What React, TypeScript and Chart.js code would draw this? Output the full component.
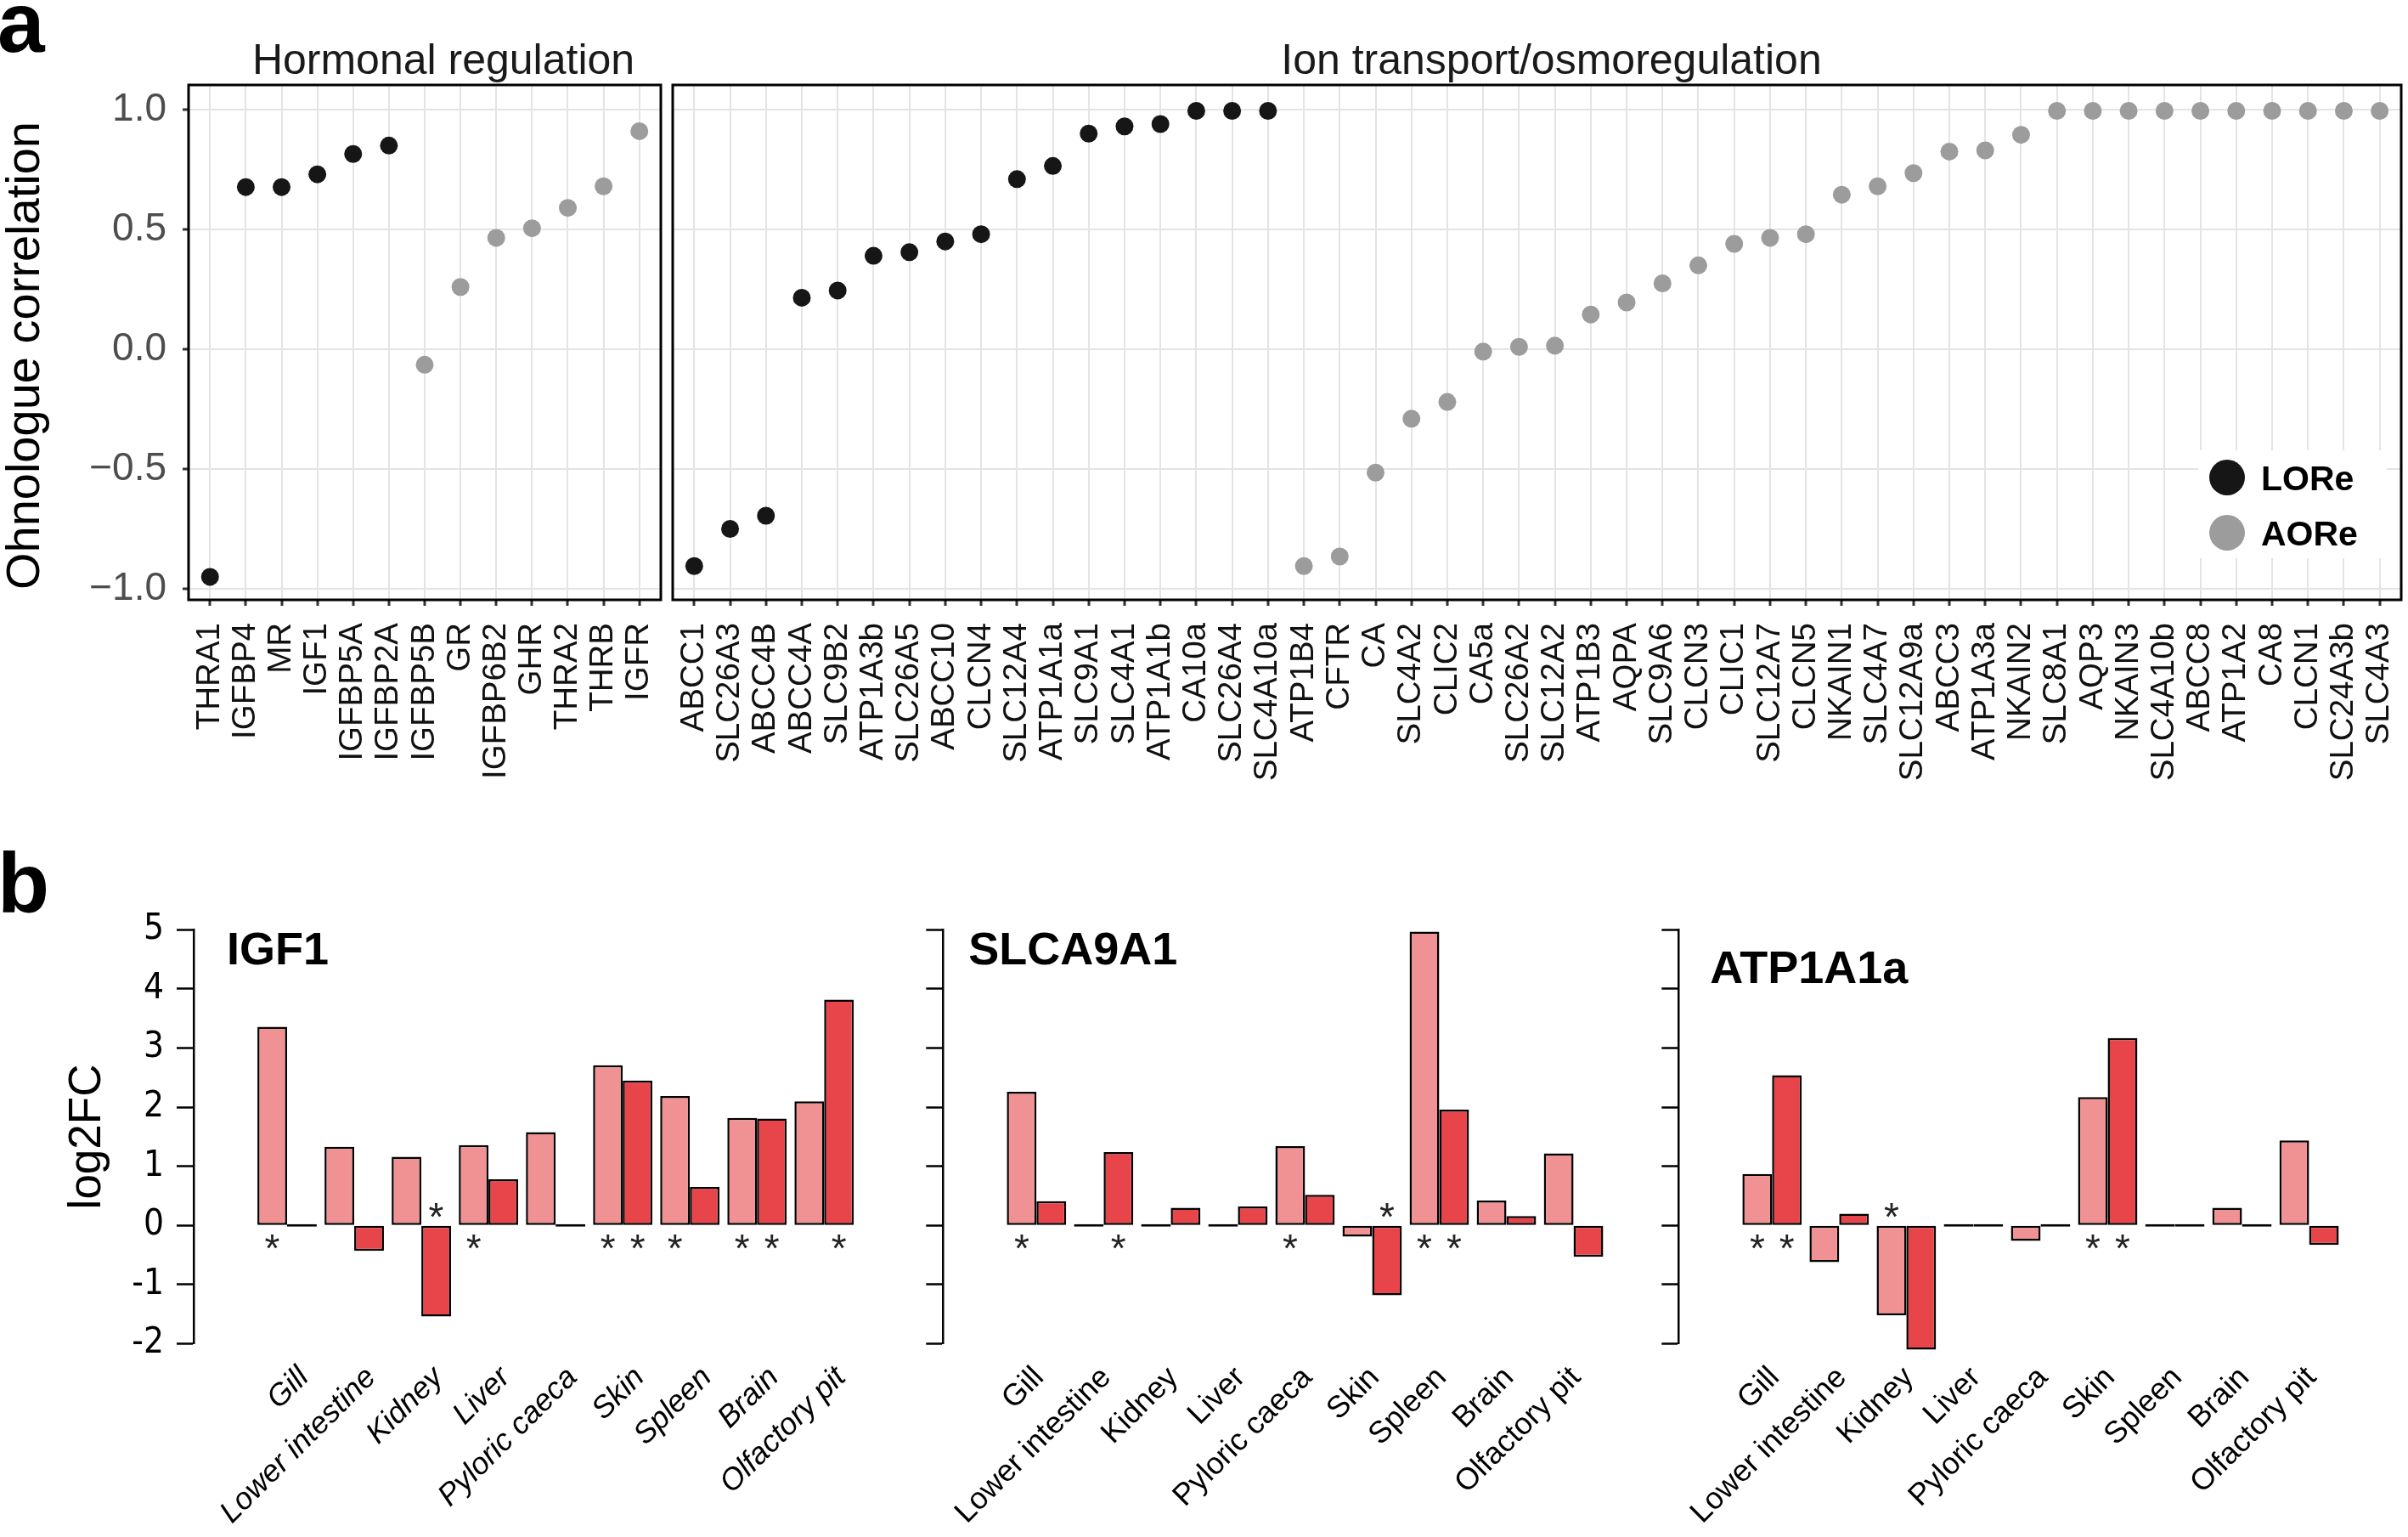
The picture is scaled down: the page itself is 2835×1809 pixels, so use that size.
import React, { useEffect, useRef } from 'react';
import { Chart, registerables } from 'chart.js';

Chart.register(...registerables);

const SANS = "'Liberation Sans', Arial, Helvetica, sans-serif";
const NARROW = "'Liberation Sans Narrow', 'DejaVu Sans Condensed', 'Liberation Sans', Arial, sans-serif";

// ---------------- Panel a data ----------------
const hormonalGenes = ['THRA1', 'IGFBP4', 'MR', 'IGF1', 'IGFBP5A', 'IGFBP2A', 'IGFBP5B', 'GR', 'IGFBP6B2', 'GHR', 'THRA2', 'THRB', 'IGFR'];
const hormonalCorr = [-0.95, 0.677, 0.677, 0.73, 0.815, 0.85, -0.065, 0.26, 0.465, 0.505, 0.59, 0.68, 0.91];
const hormonalClass = ['LORe', 'LORe', 'LORe', 'LORe', 'LORe', 'LORe', 'AORe', 'AORe', 'AORe', 'AORe', 'AORe', 'AORe', 'AORe'];

const ionGenes = [
  'ABCC1', 'SLC26A3', 'ABCC4B', 'ABCC4A', 'SLC9B2', 'ATP1A3b', 'SLC26A5', 'ABCC10', 'CLCN4', 'SLC12A4', 'ATP1A1a', 'SLC9A1',
  'SLC4A1', 'ATP1A1b', 'CA10a', 'SLC26A4', 'SLC4A10a', 'ATP1B4', 'CFTR', 'CA', 'SLC4A2', 'CLIC2', 'CA5a', 'SLC26A2',
  'SLC12A2', 'ATP1B3', 'AQPA', 'SLC9A6', 'CLCN3', 'CLIC1', 'SLC12A7', 'CLCN5', 'NKAIN1', 'SLC4A7', 'SLC12A9a', 'ABCC3',
  'ATP1A3a', 'NKAIN2', 'SLC8A1', 'AQP3', 'NKAIN3', 'SLC4A10b', 'ABCC8', 'ATP1A2', 'CA8', 'CLCN1', 'SLC24A3b', 'SLC4A3',
];
const ionCorr = [
  -0.905, -0.75, -0.695, 0.215, 0.245, 0.39, 0.405, 0.45, 0.48, 0.71, 0.765, 0.9,
  0.93, 0.94, 0.995, 0.995, 0.995, -0.905, -0.865, -0.515, -0.29, -0.22, -0.01, 0.01,
  0.015, 0.145, 0.195, 0.275, 0.35, 0.44, 0.465, 0.48, 0.645, 0.68, 0.735, 0.825,
  0.83, 0.895, 0.995, 0.995, 0.995, 0.995, 0.995, 0.995, 0.995, 0.995, 0.995, 0.995,
];
const ionClass = [
  'LORe', 'LORe', 'LORe', 'LORe', 'LORe', 'LORe', 'LORe', 'LORe', 'LORe', 'LORe', 'LORe', 'LORe',
  'LORe', 'LORe', 'LORe', 'LORe', 'LORe', 'AORe', 'AORe', 'AORe', 'AORe', 'AORe', 'AORe', 'AORe',
  'AORe', 'AORe', 'AORe', 'AORe', 'AORe', 'AORe', 'AORe', 'AORe', 'AORe', 'AORe', 'AORe', 'AORe',
  'AORe', 'AORe', 'AORe', 'AORe', 'AORe', 'AORe', 'AORe', 'AORe', 'AORe', 'AORe', 'AORe', 'AORe',
];
const corrTicks = [-1, -0.5, 0, 0.5, 1];
const corrTickLabels = ['\u22121.0', '\u22120.5', '0.0', '0.5', '1.0'];
const classNames = ['LORe', 'AORe'];
const classColors = ['#161616', '#9c9c9c'];

// ---------------- Panel b data ----------------
const tissues = ['Gill', 'Lower intestine', 'Kidney', 'Liver', 'Pyloric caeca', 'Skin', 'Spleen', 'Brain', 'Olfactory pit'];
const log2fcTicks = [-2, -1, 0, 1, 2, 3, 4, 5];

const igf1Light = [3.36, 1.33, 1.16, 1.36, 1.58, 2.71, 2.19, 1.82, 2.1];
const igf1Dark = [0, -0.43, -1.54, 0.78, 0, 2.45, 0.65, 1.81, 3.82];
const igf1SigLight = [1, 0, 0, 1, 0, 1, 1, 1, 0];
const igf1SigDark = [0, 0, 1, 0, 0, 1, 0, 1, 1];

const slc9a1Light = [2.26, 0, 0, 0, 1.34, -0.19, 4.97, 0.42, 1.22];
const slc9a1Dark = [0.41, 1.24, 0.3, 0.32, 0.52, -1.18, 1.96, 0.16, -0.53];
const slc9a1SigLight = [1, 0, 0, 0, 1, 0, 1, 0, 0];
const slc9a1SigDark = [0, 1, 0, 0, 0, 1, 1, 0, 0];

const atp1a1aLight = [0.87, -0.62, -1.52, 0, -0.26, 2.17, 0, 0.3, 1.44];
const atp1a1aDark = [2.54, 0.2, -2.1, 0, 0, 3.17, 0, 0, -0.33];
const atp1a1aSigLight = [1, 0, 1, 0, 0, 1, 0, 0, 0];
const atp1a1aSigDark = [1, 0, 0, 0, 0, 1, 0, 0, 0];

const lightColor = '#F09293';
const darkColor = '#E8454B';

type Frame = { canvas: number[]; area: number[] };

const frames: Record<string, Frame> = {
  hormonal: { canvas: [0, 0, 800, 960], area: [222, 100, 778, 706] },
  ion: { canvas: [780, 0, 2055, 960], area: [792, 100, 2827, 706] },
  igf1: { canvas: [0, 1000, 1090, 809], area: [228, 1094.4, 1070, 1581.5] },
  slc: { canvas: [1060, 1000, 905, 809], area: [1110.3, 1094.4, 1952.3, 1581.5] },
  atp: { canvas: [1930, 1000, 905, 809], area: [1976.3, 1094.4, 2818.3, 1581.5] },
};

function decor(cfg: any) {
  return {
    id: 'decor',
    afterDatasetsDraw(chart: any) {
      const ctx = chart.ctx;
      const a = chart.chartArea;
      ctx.save();
      if (cfg.box) {
        ctx.strokeStyle = '#000';
        ctx.lineWidth = 3;
        ctx.strokeRect(a.left, a.top, a.right - a.left, a.bottom - a.top);
      }
      if (cfg.stars) {
        const ys = chart.scales.y;
        const zero = ys.getPixelForValue(0);
        ctx.font = `46px ${SANS}`;
        ctx.fillStyle = '#222';
        ctx.textAlign = 'center';
        ctx.textBaseline = 'alphabetic';
        const m = ctx.measureText('*');
        const off = (m.actualBoundingBoxAscent - m.actualBoundingBoxDescent) / 2;
        cfg.stars.forEach((sig: number[], d: number) => {
          const meta = chart.getDatasetMeta(d);
          const data = chart.data.datasets[d].data;
          sig.forEach((s: number, j: number) => {
            if (!s) return;
            const el = meta.data[j];
            const v = data[j].y;
            const cy = v < 0 ? zero - 18 : zero + 19;
            ctx.fillText('*', el.x, cy + off);
          });
        });
      }
      ctx.restore();
    },
    afterDraw(chart: any) {
      const ctx = chart.ctx;
      const a = chart.chartArea;
      ctx.save();
      if (cfg.strip) {
        ctx.font = `50px ${SANS}`;
        ctx.fillStyle = '#1a1a1a';
        ctx.textAlign = 'center';
        ctx.textBaseline = 'alphabetic';
        ctx.fillText(cfg.strip, (a.left + a.right) / 2 + cfg.stripDx, a.top - 13);
      }
      if (cfg.legend) {
        ctx.fillStyle = '#fff';
        ctx.fillRect(a.right - 239, a.bottom - 176, 222, 127);
        chart.data.datasets.forEach((ds: any, i: number) => {
          const cy = a.bottom - 144 + i * 65;
          ctx.beginPath();
          ctx.arc(a.right - 205, cy, 21, 0, Math.PI * 2);
          ctx.fillStyle = ds.backgroundColor;
          ctx.fill();
          ctx.font = `bold 41px ${SANS}`;
          ctx.fillStyle = '#000';
          ctx.textAlign = 'left';
          ctx.textBaseline = 'alphabetic';
          ctx.fillText(ds.label, a.right - 165, cy + 0.358 * 41);
        });
      }
      if (cfg.innerTitle) {
        ctx.font = `bold 54px ${SANS}`;
        ctx.fillStyle = '#000';
        ctx.textAlign = 'left';
        ctx.textBaseline = 'alphabetic';
        ctx.fillText(cfg.innerTitle, a.left + cfg.titleDx, a.top + cfg.titleDy);
      }
      if (cfg.letter) {
        ctx.font = `bold ${cfg.letterSize}px ${SANS}`;
        ctx.fillStyle = '#000';
        ctx.textAlign = 'left';
        ctx.textBaseline = 'alphabetic';
        ctx.fillText(cfg.letter, cfg.letterX, cfg.letterY);
      }
      ctx.restore();
    },
  };
}

function corrConfig(frame: Frame, genes: string[], values: number[], classes: string[], title: string, stripDx: number, first: boolean, legend: boolean) {
  const [cl, ct, cw, ch] = frame.canvas;
  const [al, at, ar, ab] = frame.area;
  const yW = al - cl;
  const xH = ct + ch - ab;
  const datasets = classNames.map((cls, k) => ({
    label: cls,
    data: genes
      .map((g, i) => (classes[i] === cls ? { x: i, y: values[i] } : null))
      .filter((p) => p !== null),
    backgroundColor: classColors[k],
    borderWidth: 0,
    pointRadius: 10.5,
    pointHoverRadius: 10.5,
    showLine: false,
  }));
  return {
    type: 'scatter',
    data: { datasets },
    plugins: [
      decor({ box: true, legend, strip: title, stripDx, letter: first ? 'a' : null, letterSize: 100, letterX: -3, letterY: 61 }),
    ],
    options: {
      responsive: false,
      animation: false,
      devicePixelRatio: 1,
      layout: { padding: { left: 0, right: cl + cw - ar, top: at - ct, bottom: 0 }, autoPadding: false },
      plugins: {
        legend: { display: false },
        tooltip: { enabled: false },
        title: { display: false },
      },
      scales: {
        x: {
          type: 'linear',
          min: -0.6,
          max: genes.length - 0.4,
          afterBuildTicks: (s: any) => {
            s.ticks = genes.map((_, i) => ({ value: i }));
          },
          afterFit: (s: any) => {
            s.height = xH;
            s.paddingLeft = 0;
            s.paddingRight = 0;
          },
          ticks: {
            autoSkip: false,
            minRotation: 90,
            maxRotation: 90,
            padding: 20,
            color: '#111',
            font: { family: SANS, size: 38.5 },
            callback: (v: any) => genes[v] ?? '',
          },
          grid: { color: '#E4E4E4', lineWidth: 2, drawTicks: true, tickLength: 7, tickColor: '#333', tickWidth: 3 },
          border: { display: false },
        },
        y: {
          type: 'linear',
          min: -1.046,
          max: 1.103,
          afterBuildTicks: (s: any) => {
            s.ticks = corrTicks.map((v) => ({ value: v }));
          },
          afterFit: (s: any) => {
            s.width = yW;
            s.paddingTop = 0;
            s.paddingBottom = 0;
          },
          ticks: {
            display: first,
            padding: 19,
            color: '#4D4D4D',
            font: { family: SANS, size: 46 },
            callback: (v: any) => corrTickLabels[corrTicks.indexOf(v)] ?? '',
          },
          grid: { color: '#E4E4E4', lineWidth: 2, drawTicks: first, tickLength: 7, tickColor: '#333', tickWidth: 3 },
          border: { display: false },
          title: {
            display: first,
            text: 'Ohnologue correlation  ',
            color: '#000',
            font: { family: SANS, size: 56, lineHeight: 1.1 },
            padding: { top: 0, bottom: 0 },
          },
        },
      },
    },
  };
}

function barConfig(frame: Frame, name: string, light: number[], dark: number[], sigL: number[], sigD: number[], opt: any) {
  const [cl, ct, cw, ch] = frame.canvas;
  const [al, at, ar, ab] = frame.area;
  const yW = al - cl;
  const xH = ct + ch - ab;
  const mk = (vals: number[], color: string, label: string) => ({
    label,
    data: vals.map((v, i) => ({ x: i, y: v })),
    backgroundColor: color,
    borderColor: '#000',
    borderWidth: 2.5,
    borderSkipped: false,
    minBarLength: 3,
    categoryPercentage: 0.884,
    barPercentage: 1,
    clip: false,
  });
  return {
    type: 'bar',
    data: { datasets: [mk(light, lightColor, name + ' ohnologue 1'), mk(dark, darkColor, name + ' ohnologue 2')] },
    plugins: [
      decor({
        stars: [sigL, sigD],
        innerTitle: name,
        titleDx: opt.titleDx,
        titleDy: opt.titleDy,
        letter: opt.letter,
        letterSize: 100,
        letterX: -3,
        letterY: 74,
      }),
    ],
    options: {
      responsive: false,
      animation: false,
      devicePixelRatio: 1,
      layout: { padding: { left: 0, right: cl + cw - ar, top: at - ct, bottom: 0 }, autoPadding: false },
      plugins: { legend: { display: false }, tooltip: { enabled: false }, title: { display: false } },
      scales: {
        x: {
          type: 'linear',
          min: -0.8,
          max: 8.67,
          afterBuildTicks: (s: any) => {
            s.ticks = tissues.map((_, i) => ({ value: i }));
          },
          afterFit: (s: any) => {
            s.height = xH;
            s.paddingLeft = 0;
            s.paddingRight = 0;
          },
          ticks: {
            autoSkip: false,
            minRotation: 45,
            maxRotation: 45,
            padding: 19,
            labelOffset: opt.labelOffset,
            color: '#000',
            font: { family: SANS, size: 36, style: opt.italic ? 'italic' : 'normal' },
            callback: (v: any) => tissues[v] ?? '',
          },
          grid: { display: false, drawTicks: false },
          border: { display: false },
        },
        y: {
          type: 'linear',
          min: -2,
          max: 5,
          afterBuildTicks: (s: any) => {
            s.ticks = log2fcTicks.map((v) => ({ value: v }));
          },
          afterFit: (s: any) => {
            s.width = yW;
            s.paddingTop = 0;
            s.paddingBottom = 0;
          },
          ticks: {
            display: opt.showY,
            padding: 15,
            color: '#000',
            font: { family: NARROW, size: 42 },
            callback: (v: any) => String(v),
          },
          grid: { drawOnChartArea: false, drawTicks: true, tickLength: 20, tickColor: '#000', tickWidth: 2.5, color: '#000' },
          border: { display: true, color: '#000', width: 2.5 },
          title: {
            display: opt.showY,
            text: 'log2FC',
            color: '#000',
            font: { family: SANS, size: 53, lineHeight: 1.2 },
            padding: { top: 72, bottom: 0 },
          },
        },
      },
    },
  };
}

function ChartCanvas({ frame, build }: { frame: Frame; build: () => any }) {
  const ref = useRef<HTMLCanvasElement | null>(null);
  useEffect(() => {
    const c = ref.current;
    if (!c) return;
    const chart = new Chart(c, build());
    return () => chart.destroy();
  }, []);
  const [l, t, w, h] = frame.canvas;
  return (
    <canvas
      ref={ref}
      width={w}
      height={h}
      style={{ position: 'absolute', left: l, top: t, width: w, height: h }}
    />
  );
}

export default function App() {
  return (
    <div style={{ position: 'absolute', left: 0, top: 0, width: 2835, height: 1809, background: '#fff', overflow: 'hidden' }}>
      <ChartCanvas
        frame={frames.hormonal}
        build={() => corrConfig(frames.hormonal, hormonalGenes, hormonalCorr, hormonalClass, 'Hormonal regulation', 22, true, false)}
      />
      <ChartCanvas
        frame={frames.ion}
        build={() => corrConfig(frames.ion, ionGenes, ionCorr, ionClass, 'Ion transport/osmoregulation', 17, false, true)}
      />
      <ChartCanvas
        frame={frames.igf1}
        build={() =>
          barConfig(frames.igf1, 'IGF1', igf1Light, igf1Dark, igf1SigLight, igf1SigDark, {
            showY: true, italic: true, labelOffset: 20, titleDx: 39, titleDy: 41, letter: 'b',
          })
        }
      />
      <ChartCanvas
        frame={frames.slc}
        build={() =>
          barConfig(frames.slc, 'SLCA9A1', slc9a1Light, slc9a1Dark, slc9a1SigLight, slc9a1SigDark, {
            showY: false, italic: false, labelOffset: 3, titleDx: 30, titleDy: 41, letter: null,
          })
        }
      />
      <ChartCanvas
        frame={frames.atp}
        build={() =>
          barConfig(frames.atp, 'ATP1A1a', atp1a1aLight, atp1a1aDark, atp1a1aSigLight, atp1a1aSigDark, {
            showY: false, italic: false, labelOffset: 3, titleDx: 37, titleDy: 63, letter: null,
          })
        }
      />
    </div>
  );
}
